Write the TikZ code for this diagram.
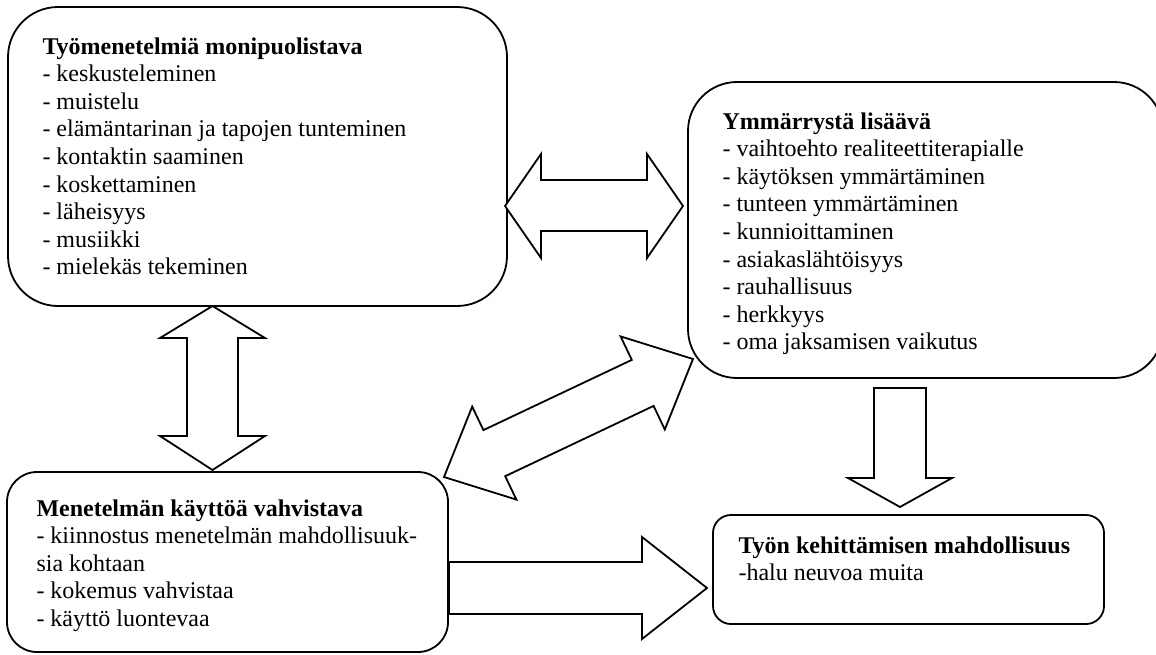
\documentclass[tikz,border=0pt]{standalone}
\usepackage{fontspec}
\setmainfont{Liberation Serif}
\begin{document}
\begin{tikzpicture}[x=0.5pt,y=-0.5pt,
  box/.style={draw, line width=0.9pt, fill=white, inner sep=0pt},
  txt/.style={anchor=north west, inner sep=0pt, align=left,
    font=\fontsize{12}{13.8}\selectfont},
  blockarrow/.style={draw, line width=0.9pt, fill=white, line join=miter}]
\useasboundingbox (0,0) rectangle (1156,654);

% the four rounded boxes
\node[box, minimum width=249.5pt, minimum height=149.5pt, rounded corners=25pt]
  (b1) at (257.5,156.5) {};
\node[box, minimum width=237.5pt, minimum height=148pt, rounded corners=24.5pt]
  (b2) at (925.5,230) {};
\node[box, minimum width=220.5pt, minimum height=90pt, rounded corners=15pt]
  (b3) at (227.5,562) {};
\node[box, minimum width=195.5pt, minimum height=54.5pt, rounded corners=9pt]
  (b4) at (908.5,569.5) {};

% box contents
\node[txt] (t1) at ([shift={(35,31)}]b1.north west) {\textbf{Työmenetelmiä monipuolistava}\\
- keskusteleminen\\
- muistelu\\
- elämäntarinan ja tapojen tunteminen\\
- kontaktin saaminen\\
- koskettaminen\\
- läheisyys\\
- musiikki\\
- mielekäs tekeminen};

\node[txt] (t2) at ([shift={(35,31)}]b2.north west) {\textbf{Ymmärrystä lisäävä}\\
- vaihtoehto realiteettiterapialle\\
- käytöksen ymmärtäminen\\
- tunteen ymmärtäminen\\
- kunnioittaminen\\
- asiakaslähtöisyys\\
- rauhallisuus\\
- herkkyys\\
- oma jaksamisen vaikutus};

\node[txt] (t3) at ([shift={(30,28)}]b3.north west) {\textbf{Menetelmän käyttöä vahvistava}\\
- kiinnostus menetelmän mahdollisuuk-\\
sia kohtaan\\
- kokemus vahvistaa\\
- käyttö luontevaa};

\node[txt] (t4) at ([shift={(26,22)}]b4.north west) {\textbf{Työn kehittämisen mahdollisuus}\\
-halu neuvoa muita};

% block arrows between the boxes
% b1 <-> b2
\draw[blockarrow] (505,206) -- (541,154) -- (541,180) -- (647,180) -- (647,154)
  -- (683,206) -- (647,258) -- (647,231) -- (541,231) -- (541,258) -- cycle;
% b1 <-> b3
\draw[blockarrow] (212.5,306) -- (265,338) -- (238,338) -- (238,436) -- (265,436)
  -- (212.5,470) -- (160,436) -- (187,436) -- (187,338) -- (160,338) -- cycle;
% b3 <-> b2 (diagonal)
\draw[blockarrow] (444,477) -- (472.2,406.6) -- (483.4,430.1) -- (631.8,359.9)
  -- (620.6,336.4) -- (693,359) -- (664.8,429.5) -- (653.6,405.9)
  -- (505.2,476.2) -- (516.4,499.6) -- cycle;
% b2 -> b4
\draw[blockarrow] (874,388) -- (926,388) -- (926,478) -- (952,478) -- (900,507)
  -- (848,478) -- (874,478) -- cycle;
% b3 -> b4
\draw[blockarrow] (b3.east |- 0,562) -- (642,562) -- (642,537) -- (707,588)
  -- (642,639) -- (642,614) -- (b3.east |- 0,614) -- cycle;
\end{tikzpicture}
\end{document}
